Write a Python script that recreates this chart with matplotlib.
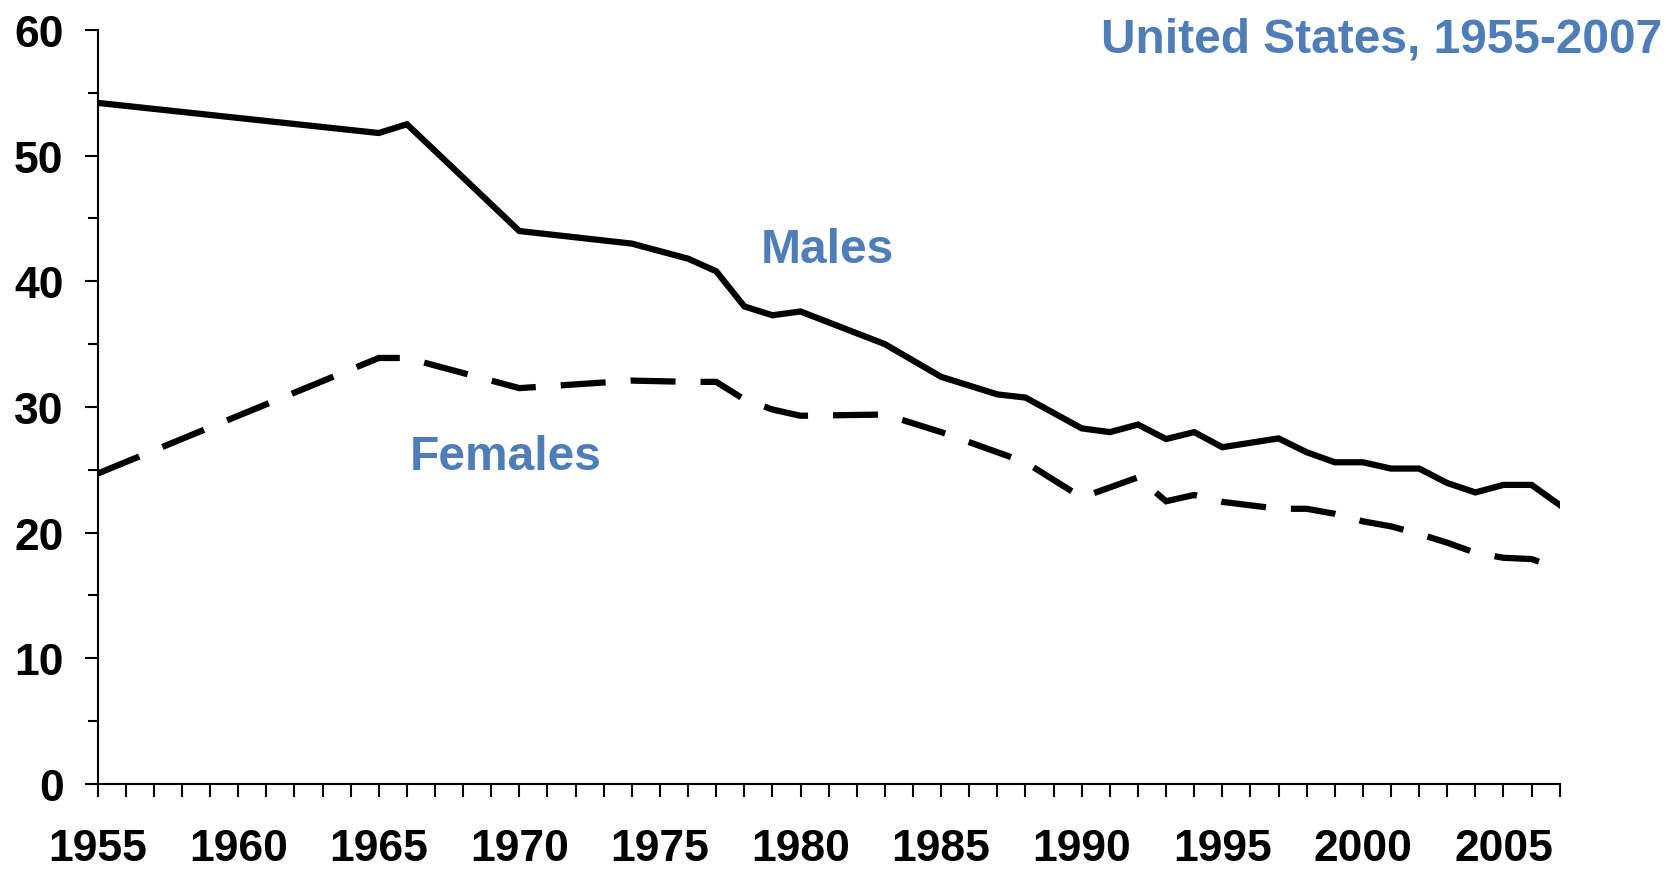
import numpy as np
import matplotlib
matplotlib.use("Agg")
import matplotlib.pyplot as plt
from matplotlib.ticker import MultipleLocator

plt.rcParams['font.family'] = ['Liberation Sans', 'DejaVu Sans']
plt.rcParams['font.weight'] = 'bold'

# survey years and prevalence (%)
years = [1955, 1965, 1966, 1970, 1974, 1976, 1977, 1978, 1979, 1980, 1983,
         1985, 1987, 1988, 1990, 1991, 1992, 1993, 1994, 1995, 1997, 1998,
         1999, 2000, 2001, 2002, 2003, 2004, 2005, 2006, 2007]
males = [54.2, 51.8, 52.5, 44.0, 43.0, 41.8, 40.8, 38.0, 37.3, 37.6, 35.0,
         32.4, 31.0, 30.75, 28.3, 28.0, 28.6, 27.45, 28.0, 26.8, 27.5, 26.4,
         25.6, 25.6, 25.1, 25.1, 23.95, 23.2, 23.8, 23.8, 22.2]
females = [24.7, 33.9, 33.9, 31.5, 32.1, 32.0, 32.0, 30.6, 29.8, 29.3, 29.4,
           28.0, 26.4, 25.6, 22.8, 23.6, 24.4, 22.5, 23.0, 22.45, 21.9, 21.9,
           21.5, 20.9, 20.5, 19.9, 19.2, 18.4, 18.0, 17.9, 17.1]

title_text = "United States, 1955-2007"
blue = '#4F7DB8'

fig = plt.figure(figsize=(16.66, 8.70), dpi=100)
ax = fig.add_axes([0.0586, 0.0977, 0.8776, 0.8667])

ax.plot(years, males, color='black', linewidth=4.5, solid_joinstyle='miter')
ln, = ax.plot(years, females, color='black', linewidth=4.5,
              dash_capstyle='butt', dash_joinstyle='miter')
ln.set_dashes((7.2, 4.0))

ax.set_xlim(1955, 2007)
ax.set_ylim(0, 60)

for s in ['top', 'right']:
    ax.spines[s].set_visible(False)
for s in ['left', 'bottom']:
    ax.spines[s].set_linewidth(1.5)

ax.xaxis.set_major_locator(MultipleLocator(5))
ax.xaxis.set_minor_locator(MultipleLocator(1))
ax.yaxis.set_major_locator(MultipleLocator(10))
ax.yaxis.set_minor_locator(MultipleLocator(5))

ax.tick_params(axis='both', which='both', direction='out', width=1.5)
ax.tick_params(axis='y', which='major', length=9.5, pad=15, labelsize=32)
ax.tick_params(axis='y', which='minor', length=7.5)
ax.tick_params(axis='x', which='major', length=9.5, pad=22, labelsize=32)
ax.tick_params(axis='x', which='minor', length=9)

for lab in ax.get_xticklabels() + ax.get_yticklabels():
    lab.set_fontweight('bold')

ax.text(1978.6, 41.5, "Males", color=blue, fontsize=34.5, fontweight='bold',
        va='baseline', ha='left')
ax.text(1966.1, 25.06, "Females", color=blue, fontsize=34.5, fontweight='bold',
        va='baseline', ha='left')
fig.text(0.9976, 0.940, title_text, color=blue, fontsize=34.5,
         fontweight='bold', ha='right', va='baseline')

fig.savefig("out.png", dpi=100)
